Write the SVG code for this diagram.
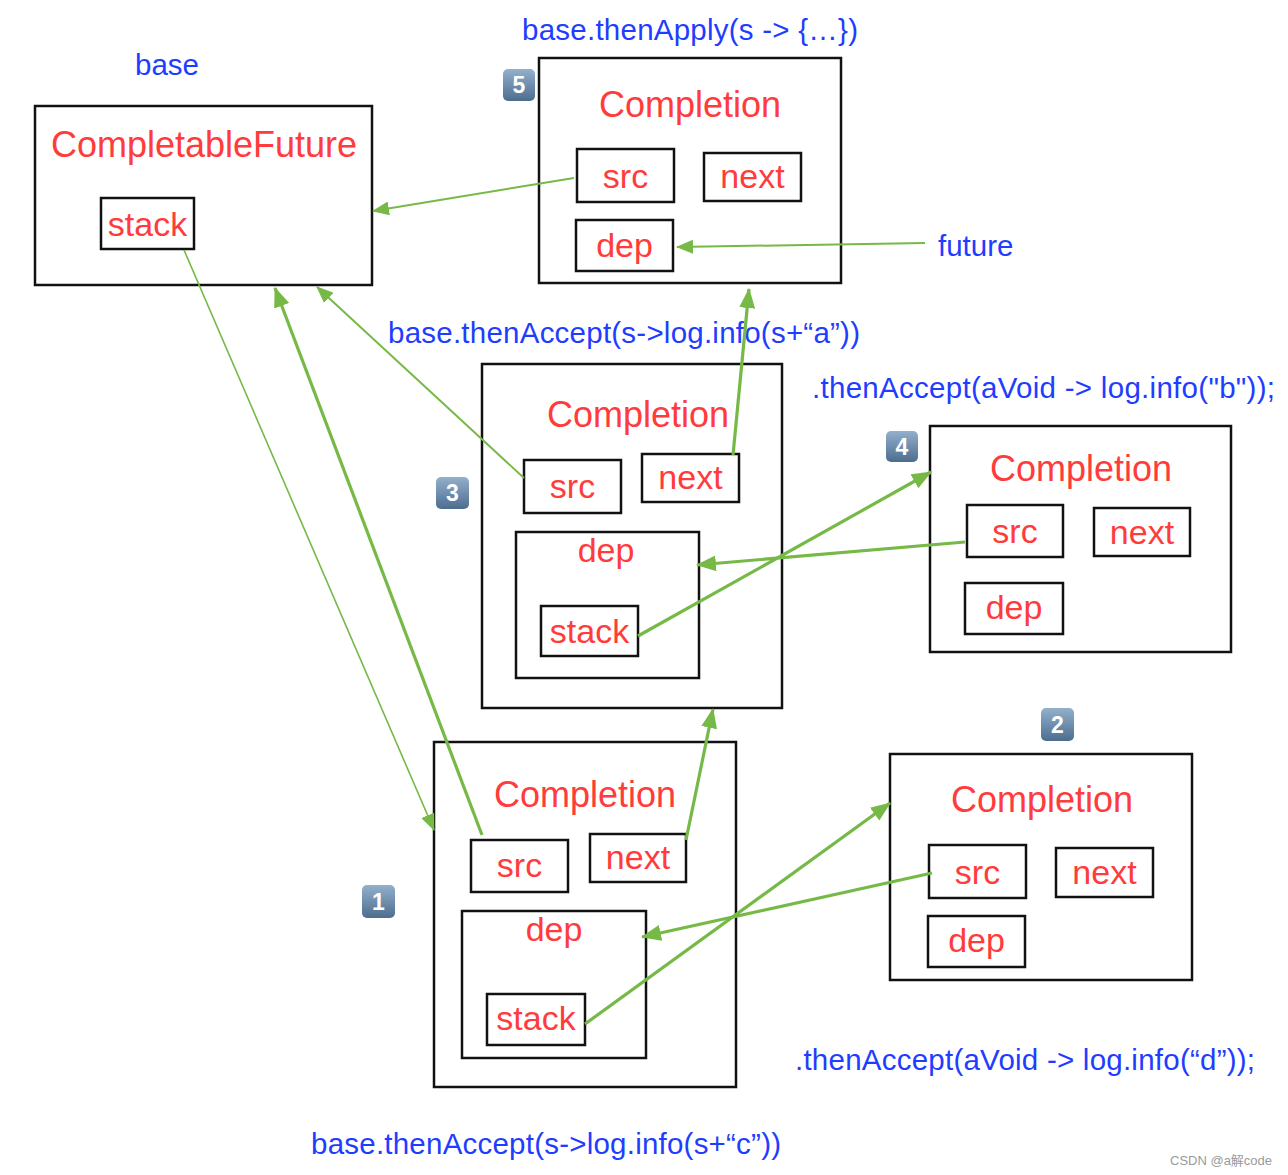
<svg xmlns="http://www.w3.org/2000/svg" width="1288" height="1175" viewBox="0 0 1288 1175">
<defs>
<linearGradient id="bg" x1="0" y1="0" x2="0" y2="1">
<stop offset="0" stop-color="#93b0cc"/>
<stop offset="1" stop-color="#4d6d8f"/>
</linearGradient>
<marker id="ah" markerUnits="userSpaceOnUse" markerWidth="20" markerHeight="16" refX="19" refY="8" orient="auto">
<path d="M0,0 L20,8 L0,16 z" fill="#76b947"/>
</marker>
<marker id="ahs" markerUnits="userSpaceOnUse" markerWidth="17" markerHeight="14" refX="16" refY="7" orient="auto">
<path d="M0,0 L17,7 L0,14 z" fill="#76b947"/>
</marker>
</defs>
<style>
.box{fill:none;stroke:#111;stroke-width:2.5}
.obox{fill:#fff;stroke:#111;stroke-width:2.5}
.red{fill:#ff3b3b;font-family:"Liberation Sans",Arial,sans-serif;text-anchor:middle}
.big{font-size:36px}
.sm{font-size:34px}
.blue{fill:#1f3dff;font-family:"Liberation Sans",Arial,sans-serif;font-size:29.5px}
.badge{fill:url(#bg)}
.bn{fill:#fff;font-family:"Liberation Sans",Arial,sans-serif;font-size:23px;font-weight:bold;text-anchor:middle}
.c{fill:none;stroke:#76b947;stroke-linecap:butt}
.thin{stroke-width:2}
.hair{stroke-width:1.6}
.thick{stroke-width:3.2}
</style>
<rect width="1288" height="1175" fill="#fff"/>

<g id="labels">
<text class="blue" x="135" y="75">base</text>
<text class="blue" x="522" y="40" textLength="336" lengthAdjust="spacing">base.thenApply(s -&gt; {…})</text>
<text class="blue" x="938" y="256">future</text>
<text class="blue" x="388" y="343" textLength="472" lengthAdjust="spacing">base.thenAccept(s-&gt;log.info(s+“a”))</text>
<text class="blue" x="812" y="398" textLength="463" lengthAdjust="spacing">.thenAccept(aVoid -&gt; log.info("b"));</text>
<text class="blue" x="795" y="1070" textLength="460" lengthAdjust="spacing">.thenAccept(aVoid -&gt; log.info(“d”));</text>
<text class="blue" x="311" y="1154" textLength="470" lengthAdjust="spacing">base.thenAccept(s-&gt;log.info(s+“c”))</text>
<text x="1170" y="1165" fill="#9a9a9a" font-family="'Liberation Sans','Noto Sans CJK SC',sans-serif" font-size="13">CSDN @a解code</text>
</g>

<g id="node-base">
<rect class="obox" x="35" y="106" width="337" height="179"/>
<text class="red big" x="204" y="157">CompletableFuture</text>
<rect class="box" x="101" y="198" width="93" height="51"/>
<text class="red sm" x="147.5" y="236">stack</text>
</g>

<g id="node-5">
<rect class="badge" x="503" y="69" width="32" height="32" rx="5"/>
<text class="bn" x="519" y="93">5</text>
<rect class="obox" x="539" y="58" width="302" height="225"/>
<text class="red big" x="690" y="117">Completion</text>
<rect class="box" x="577" y="149" width="97" height="53"/>
<text class="red sm" x="625.5" y="188">src</text>
<rect class="box" x="704" y="153" width="97" height="48"/>
<text class="red sm" x="752.5" y="188">next</text>
<rect class="box" x="576" y="220" width="97" height="51"/>
<text class="red sm" x="624.5" y="257">dep</text>
</g>

<g id="node-3">
<rect class="badge" x="436" y="477" width="33" height="32" rx="5"/>
<text class="bn" x="452.5" y="501">3</text>
<rect class="obox" x="482" y="364" width="300" height="344"/>
<text class="red big" x="638" y="427">Completion</text>
<rect class="box" x="524" y="460" width="97" height="53"/>
<text class="red sm" x="572.5" y="498">src</text>
<rect class="box" x="642" y="454" width="97" height="48"/>
<text class="red sm" x="690.5" y="489">next</text>
<rect class="box" x="516" y="532" width="183" height="146"/>
<text class="red sm" x="606" y="562">dep</text>
<rect class="box" x="541" y="606" width="97" height="50"/>
<text class="red sm" x="589.5" y="643">stack</text>
</g>

<g id="node-4">
<rect class="badge" x="886" y="431" width="32" height="31" rx="5"/>
<text class="bn" x="902" y="455">4</text>
<rect class="obox" x="930" y="426" width="301" height="226"/>
<text class="red big" x="1081" y="481">Completion</text>
<rect class="box" x="967" y="505" width="96" height="52"/>
<text class="red sm" x="1015" y="543">src</text>
<rect class="box" x="1094" y="508" width="96" height="48"/>
<text class="red sm" x="1142" y="544">next</text>
<rect class="box" x="965" y="583" width="98" height="51"/>
<text class="red sm" x="1014" y="619">dep</text>
</g>

<g id="node-1">
<rect class="badge" x="362" y="885" width="33" height="33" rx="5"/>
<text class="bn" x="378.5" y="910">1</text>
<rect class="obox" x="434" y="742" width="302" height="345"/>
<text class="red big" x="585" y="807">Completion</text>
<rect class="box" x="471" y="840" width="97" height="52"/>
<text class="red sm" x="519.5" y="877">src</text>
<rect class="box" x="590" y="834" width="96" height="48"/>
<text class="red sm" x="638" y="869">next</text>
<rect class="box" x="462" y="911" width="184" height="147"/>
<text class="red sm" x="554" y="941">dep</text>
<rect class="box" x="487" y="994" width="98" height="51"/>
<text class="red sm" x="536" y="1030">stack</text>
</g>

<g id="node-2">
<rect class="badge" x="1041" y="708" width="33" height="33" rx="5"/>
<text class="bn" x="1057.5" y="733">2</text>
<rect class="obox" x="890" y="754" width="302" height="226"/>
<text class="red big" x="1042" y="812">Completion</text>
<rect class="box" x="929" y="845" width="97" height="53"/>
<text class="red sm" x="977.5" y="884">src</text>
<rect class="box" x="1056" y="848" width="97" height="49"/>
<text class="red sm" x="1104.5" y="884">next</text>
<rect class="box" x="928" y="916" width="97" height="51"/>
<text class="red sm" x="976.5" y="952">dep</text>
</g>

<g id="connectors">
<line class="c thin" x1="574" y1="178" x2="373" y2="211" marker-end="url(#ahs)"/>
<line class="c thin" x1="925" y1="243" x2="677" y2="247" marker-end="url(#ahs)"/>
<line class="c thick" x1="733" y1="455" x2="749" y2="289" marker-end="url(#ah)"/>
<line class="c thin" x1="524" y1="478" x2="317" y2="287" marker-end="url(#ahs)"/>
<line class="c thick" x1="482" y1="835" x2="275" y2="288" marker-end="url(#ah)"/>
<line class="c hair" x1="184" y1="250" x2="434" y2="830" marker-end="url(#ahs)"/>
<line class="c thick" x1="686" y1="840" x2="713" y2="709" marker-end="url(#ah)"/>
<line class="c thick" x1="965" y1="542" x2="697" y2="565" marker-end="url(#ah)"/>
<line class="c thick" x1="638" y1="636" x2="931" y2="472" marker-end="url(#ah)"/>
<line class="c thick" x1="932" y1="873" x2="642" y2="937" marker-end="url(#ah)"/>
<line class="c thick" x1="585" y1="1024" x2="890" y2="803" marker-end="url(#ah)"/>
</g>
</svg>
